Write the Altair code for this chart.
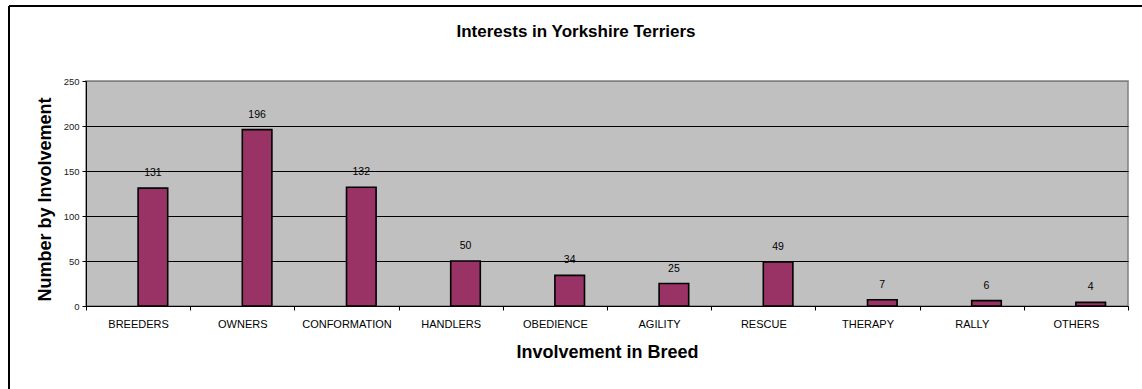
import altair as alt
import pandas as pd

categories = ["BREEDERS", "OWNERS", "CONFORMATION", "HANDLERS", "OBEDIENCE",
              "AGILITY", "RESCUE", "THERAPY", "RALLY", "OTHERS"]
values = [131, 196, 132, 50, 34, 25, 49, 7, 6, 4]
y_ticks = [0, 50, 100, 150, 200, 250]

df = pd.DataFrame({"cat": categories, "val": values})

FONT = "Liberation Sans"
W, H = 1042, 225
BAND = W / len(categories)
BAR_W = BAND * 0.284

x_enc = alt.X("cat:N", sort=categories,
              scale=alt.Scale(paddingInner=0, paddingOuter=0),
              axis=alt.Axis(title="Involvement in Breed", labelAngle=0,
                            labelFontSize=11, labelFont=FONT, labelColor="#000",
                            labelPadding=8, tickBand="extent", tickSize=4,
                            tickColor="#000", domainColor="#000",
                            titleFontSize=18, titleFont=FONT, titleFontWeight="bold",
                            titlePadding=14, titleColor="#000", grid=False))
y_enc = alt.Y("val:Q", scale=alt.Scale(domain=[0, 250], nice=False),
              axis=alt.Axis(title="Number by Involvement", values=y_ticks,
                            labelFontSize=9.5, labelFont=FONT, labelColor="#222",
                            tickSize=4, tickColor="#000", domainColor="#000",
                            labelPadding=3,
                            grid=True,
                            gridColor={"condition": {"test": "datum.value == 250", "value": "#808080"},
                                       "value": "#000"},
                            gridOpacity=1, gridWidth=1,
                            titleFontSize=18, titleFont=FONT, titleFontWeight="bold",
                            titlePadding=9, titleY=118, titleColor="#000"))

bars = alt.Chart(df).mark_bar(color="#993366", stroke="#000", strokeWidth=1.6,
                              width=BAR_W, xOffset=BAR_W / 2).encode(x=x_enc, y=y_enc)

labels = alt.Chart(df).mark_text(baseline="bottom", dy=-10, xOffset=BAR_W / 2,
                                 fontSize=10.5, font=FONT, color="#000").encode(
    x=alt.X("cat:N", sort=categories), y="val:Q", text="val:Q")

frame_left = alt.Chart(df).mark_rule(color="#000", strokeWidth=2).encode(
    x=alt.value(-77), y=alt.value(-75), y2=alt.value(320))
frame_top = alt.Chart(df).mark_rule(color="#000", strokeWidth=2).encode(
    x=alt.value(-77), x2=alt.value(1142 - 86), y=alt.value(-75))

chart = alt.layer(bars, labels, frame_left, frame_top).properties(
    width=W, height=H,
    title=alt.TitleParams("Interests in Yorkshire Terriers", font=FONT, fontSize=17,
                          fontWeight="bold", color="#000", anchor="middle",
                          baseline="alphabetic", dx=-31, offset=-49),
    padding={"left": 86, "top": 81, "right": 14, "bottom": 83},
    autosize=alt.AutoSizeParams(type="none"),
    background="white",
).configure_view(fill="#C0C0C0", stroke="#808080", strokeWidth=1.5)

chart.save("out.html", embed_options={"renderer": "svg", "actions": False})
